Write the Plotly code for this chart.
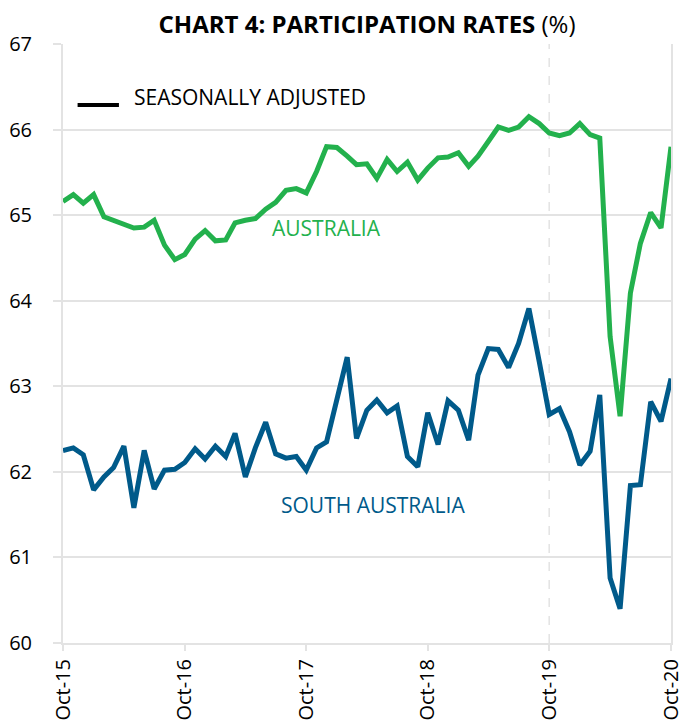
import pandas as pd
import plotly.graph_objects as go

months = pd.date_range("2015-10-01", periods=61, freq="MS")

australia = [65.16, 65.24, 65.14, 65.24, 64.98, 64.94, 64.90, 64.85, 64.86, 64.94,
             64.65, 64.48, 64.54, 64.72, 64.82, 64.70, 64.71, 64.91, 64.94, 64.96,
             65.07, 65.15, 65.29, 65.31, 65.26, 65.51, 65.80, 65.79, 65.69, 65.59,
             65.60, 65.43, 65.65, 65.51, 65.62, 65.41, 65.55, 65.67, 65.68, 65.73,
             65.57, 65.69, 65.86, 66.03, 65.99, 66.03, 66.15, 66.07, 65.96, 65.93,
             65.96, 66.07, 65.94, 65.90, 63.58, 62.65, 64.09, 64.67, 65.03, 64.85,
             65.80]

south_australia = [62.25, 62.28, 62.20, 61.79, 61.94, 62.05, 62.30, 61.58, 62.25, 61.80,
                   62.02, 62.03, 62.11, 62.27, 62.15, 62.30, 62.18, 62.45, 61.94, 62.28,
                   62.58, 62.21, 62.16, 62.18, 62.02, 62.28, 62.35, 62.84, 63.34, 62.39,
                   62.72, 62.84, 62.69, 62.77, 62.18, 62.06, 62.69, 62.32, 62.83, 62.72,
                   62.37, 63.13, 63.44, 63.43, 63.22, 63.50, 63.91, 63.29, 62.67, 62.74,
                   62.47, 62.08, 62.24, 62.90, 60.76, 60.40, 61.84, 61.85, 62.82, 62.59,
                   63.09]

tick_dates = ["2015-10-01", "2016-10-01", "2017-10-01", "2018-10-01", "2019-10-01", "2020-10-01"]
tick_labels = ["Oct-15", "Oct-16", "Oct-17", "Oct-18", "Oct-19", "Oct-20"]
y_ticks = [60, 61, 62, 63, 64, 65, 66, 67]

GREEN = "#23B14D"
BLUE = "#005A8A"
GRID = "#E3E3E3"
FONT = "Open Sans"

fig = go.Figure()
fig.add_trace(go.Scatter(x=months, y=australia, mode="lines", name="AUSTRALIA",
                         line=dict(color=GREEN, width=5), showlegend=False))
fig.add_trace(go.Scatter(x=months, y=south_australia, mode="lines", name="SOUTH AUSTRALIA",
                         line=dict(color=BLUE, width=5), showlegend=False))

# dashed reference at Oct-19
fig.add_shape(type="line", xref="x", yref="paper", x0=tick_dates[4], x1=tick_dates[4],
              y0=0, y1=1, line=dict(color=GRID, width=1.5, dash="dash"), layer="below")

# legend key
fig.add_shape(type="line", xref="paper", yref="paper", x0=0.024, x1=0.092, y0=0.8982, y1=0.8982,
              line=dict(color="black", width=4))
fig.add_annotation(text="SEASONALLY ADJUSTED", xref="paper", yref="paper", x=0.113, y=0.9115,
                   xanchor="left", yanchor="middle", showarrow=False,
                   font=dict(family=FONT, size=21, color="black"))

fig.add_annotation(text="AUSTRALIA", x=months[26], y=64.85, showarrow=False,
                   xanchor="center", yanchor="middle", font=dict(family=FONT, size=21, color=GREEN))
fig.add_annotation(text="SOUTH AUSTRALIA", x=pd.Timestamp("2018-04-20"), y=61.61, showarrow=False,
                   xanchor="center", yanchor="middle", font=dict(family=FONT, size=21, color=BLUE))

fig.update_layout(
    width=687, height=714,
    margin=dict(l=55, r=24, t=36, b=79),
    paper_bgcolor="white", plot_bgcolor="white",
    title=dict(text="<b>CHART 4: PARTICIPATION RATES</b> (%)", x=0.5, xref="paper",
               y=0.977, yref="container", xanchor="center", yanchor="middle",
               font=dict(family=FONT, size=24, color="black")),
    font=dict(family=FONT, size=20, color="black"),
)
fig.update_xaxes(
    type="date", range=[tick_dates[0], tick_dates[-1]],
    tickvals=tick_dates, ticktext=tick_labels, tickangle=-90,
    showgrid=False, showline=True, linecolor=GRID, linewidth=2,
    ticks="outside", ticklen=6, tickcolor=GRID, tickwidth=1.5,
    tickfont=dict(family=FONT, size=20, color="black"), automargin=False,
)
fig.update_yaxes(
    range=[60, 67], tickvals=y_ticks, showgrid=True, gridcolor=GRID, gridwidth=2,
    showline=True, linecolor=GRID, linewidth=2, mirror=True, zeroline=False,
    ticks="outside", ticklen=8, tickcolor=GRID, tickwidth=2, ticklabelstandoff=17,
    tickfont=dict(family=FONT, size=20, color="black"), automargin=False,
)

fig.write_html("out.html")
